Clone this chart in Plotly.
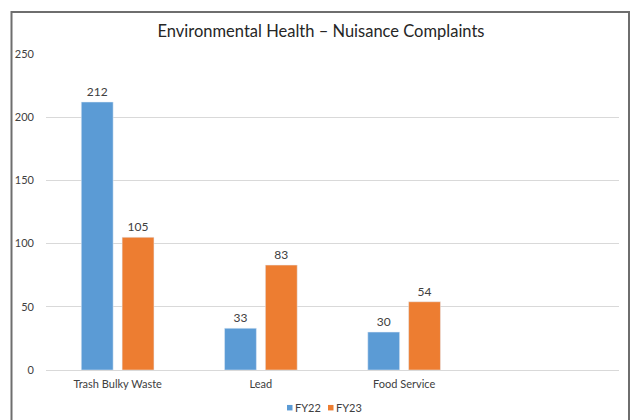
import plotly.graph_objects as go

categories = ["Trash Bulky Waste", "Lead", "Food Service"]
fy22 = [212, 33, 30]
fy23 = [105, 83, 54]
y_ticks = [0, 50, 100, 150, 200, 250]
series_names = ["FY22", "FY23"]
series_colors = ["#5B9BD5", "#ED7D31"]

FONT = "Lato"
xs = list(range(len(categories)))

# page body has an 8px margin; work in target-screen coordinates
OFF = 8
W, H = 640 - OFF, 420 - OFF
L, R = 46 - OFF, 21
T, B = 54 - OFF, 420 - 370.5
pw, ph = W - L - R, H - T - B
def px(x):
    return (x - OFF - L) / pw
def py(y):
    return (H - B - (y - OFF)) / ph

fig = go.Figure()
for name, vals, col in zip(series_names, [fy22, fy23], series_colors):
    fig.add_trace(go.Bar(name=name, x=xs, y=vals, marker_color=col,
                         text=vals, textposition="outside", cliponaxis=False,
                         showlegend=False,
                         textfont=dict(color="#404040", size=12, family=FONT)))

fig.update_layout(
    width=W, height=H,
    margin=dict(l=L, r=R, t=T, b=B, autoexpand=False),
    paper_bgcolor="white", plot_bgcolor="white",
    barmode="group", bargap=0.43, bargroupgap=0.22,
    title=dict(text="Environmental Health – Nuisance Complaints",
               x=px(321), xanchor="center", y=(H - (31 - OFF)) / H, yanchor="middle",
               xref="paper",
               font=dict(family=FONT, size=16.5, color="#262626")),
    font=dict(family=FONT, size=12, color="#595959"),
    xaxis=dict(range=[-0.5, 3.5], tickvals=xs, ticktext=categories,
               showgrid=False, zeroline=False, showline=False, ticks="",
               automargin=False, ticklabelstandoff=6,
               tickfont=dict(size=11, color="#404040")),
    yaxis=dict(range=[0, 250], tickvals=y_ticks, showgrid=True,
               gridcolor="#D9D9D9", gridwidth=1, zeroline=True,
               zerolinecolor="#D9D9D9", zerolinewidth=1, ticks="",
               automargin=False, ticklabelstandoff=11,
               tickfont=dict(size=11, color="#404040")),
    showlegend=False,
)

# legend (custom, compact like the original)
legend_items = [(287, 293), (328, 334)]
for (sx, tx), name, col in zip(legend_items, series_names, series_colors):
    fig.add_shape(type="rect", xref="paper", yref="paper",
                  x0=px(sx), x1=px(sx + 5.5), y0=py(411), y1=py(405.5),
                  line=dict(width=0), fillcolor=col)
    fig.add_annotation(text=name, xref="paper", yref="paper",
                       x=px(tx), y=py(408), xanchor="left", yanchor="middle",
                       showarrow=False,
                       font=dict(family=FONT, size=11, color="#404040"))

# chart-area border
fig.add_shape(type="rect", xref="paper", yref="paper",
              x0=px(11.5), x1=px(629), y0=py(440), y1=py(12),
              line=dict(color="#6E6E6E", width=2), layer="above")

fig.write_html("out.html")
